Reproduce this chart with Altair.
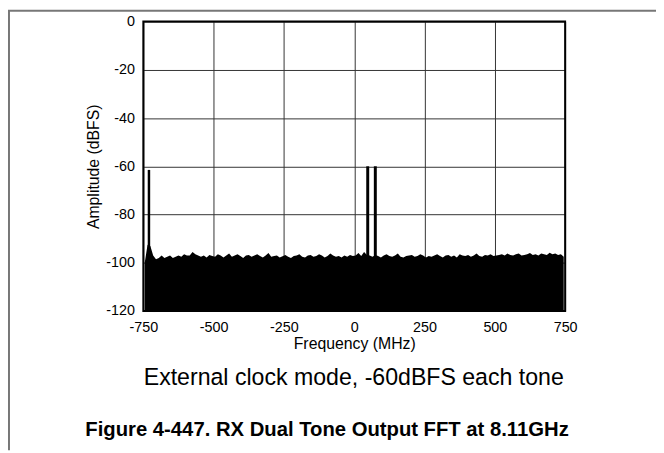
import altair as alt
import pandas as pd

# Noise-floor envelope (top of the filled FFT trace), dBFS, one value per 10 MHz bin
freq_bins = list(range(-745, 746, 10))
noise_top = [
    -100.0, -92.5, -93.0, -97.0, -98.5, -98.0, -97.0, -98.0, -97.5, -97.0,
    -98.0, -97.5, -97.0, -97.5, -96.5, -97.0, -97.0, -95.5, -96.5, -97.0,
    -97.5, -97.0, -97.8, -96.8, -97.2, -97.5, -96.5, -97.0, -97.8, -97.0,
    -96.2, -97.5, -97.0, -96.5, -97.2, -98.0, -97.0, -96.8, -97.5, -97.0,
    -96.5, -97.2, -97.8, -97.0, -96.0, -97.5, -97.2, -97.0, -97.8, -97.3,
    -96.8, -97.5, -98.0, -97.2, -97.0, -96.5, -97.5, -97.8, -97.0, -96.8,
    -97.5, -97.2, -96.5, -97.0, -97.8, -97.2, -96.2, -97.0, -97.5, -97.2,
    -97.8, -97.0, -97.5, -96.8, -97.2, -97.0, -96.0, -97.2, -95.5, -96.8,
    -97.0, -97.5, -96.8, -97.2, -97.8, -97.0, -96.5, -97.2, -97.5, -97.0,
    -96.2, -97.5, -97.8, -97.2, -97.0, -96.8, -97.5, -97.2, -96.5, -97.0,
    -97.8, -97.2, -97.5, -97.0, -96.5, -97.2, -97.8, -97.0, -96.8, -97.5,
    -97.0, -97.8, -96.5, -97.0, -97.2, -96.8, -97.5, -97.0, -96.2, -97.2,
    -97.5, -96.8, -97.0, -96.5, -97.2, -97.0, -96.8, -96.5, -97.0, -96.2,
    -96.8, -97.0, -96.5, -96.2, -97.0, -96.8, -96.5, -96.0, -96.8, -96.5,
    -97.0, -96.2, -96.5, -96.8, -95.8, -96.5, -96.2, -96.8, -96.5, -97.5,
]

# Spurs / tones
tone_freq = [-730, 48, 75]
tone_level = [-61.5, -60.0, -60.0]
tone_width = [2.5, 3, 3]

x_ticks = [-750, -500, -250, 0, 250, 500, 750]
y_ticks = [0, -20, -40, -60, -80, -100, -120]

noise_df = pd.DataFrame({"f": freq_bins, "top": noise_top, "base": [-120] * len(freq_bins)})
tone_df = pd.DataFrame({"f": tone_freq, "top": tone_level, "base": [-120] * 3, "w": tone_width})

xs = alt.Scale(domain=[-750, 750], nice=False, zero=False)
ys = alt.Scale(domain=[-120, 0], nice=False, zero=False)

font = "Liberation Sans"

xaxis = alt.Axis(values=x_ticks, title="Frequency (MHz)", grid=True, ticks=False,
                 labelExpr="datum.value + ''", labelFlush=False,
                 labelPadding=10, titlePadding=1, labelFontSize=14.5, titleFontSize=16,
                 labelColor="black", titleColor="black", titleFontWeight="normal",
                 gridColor="#333", gridWidth=1, domain=False, labelFont=font, titleFont=font)
yaxis = alt.Axis(values=y_ticks, title="Amplitude (dBFS)", grid=True, ticks=False,
                 labelExpr="datum.value + ''", labelFlush=False,
                 labelPadding=9, titlePadding=4, labelFontSize=14.5, titleFontSize=16,
                 labelColor="black", titleColor="black", titleFontWeight="normal",
                 gridColor="#333", gridWidth=1, domain=False, labelFont=font, titleFont=font)

noise = alt.Chart(noise_df).mark_area(color="black", interpolate="linear").encode(
    x=alt.X("f:Q", scale=xs, axis=xaxis),
    y=alt.Y("top:Q", scale=ys, axis=yaxis),
    y2="base:Q",
)

tones = alt.Chart(tone_df).mark_rule(color="black").encode(
    x=alt.X("f:Q", scale=xs),
    y=alt.Y("top:Q", scale=ys),
    y2="base:Q",
    strokeWidth=alt.StrokeWidth("w:Q", scale=None, legend=None),
)

W, H = 427, 293

frame = alt.Chart(pd.DataFrame({"a": [0]})).mark_rect(
    fill=None, stroke="black", strokeWidth=2
).encode(x=alt.value(0), x2=alt.value(W), y=alt.value(0), y2=alt.value(H))

sub = alt.Chart(pd.DataFrame({"t": ["External clock mode, -60dBFS each tone"]})).mark_text(
    fontSize=23.4, font=font, color="black", align="center", baseline="middle"
).encode(text="t:N", x=alt.value(213), y=alt.value(361))

cap = alt.Chart(pd.DataFrame({"t": ["Figure 4-447. RX Dual Tone Output FFT at 8.11GHz"]})).mark_text(
    fontSize=20.5, font=font, fontWeight="bold", color="black", align="center", baseline="middle"
).encode(text="t:N", x=alt.value(186), y=alt.value(414))

border_top = alt.Chart(pd.DataFrame({"a": [0]})).mark_rule(color="#777", strokeWidth=2).encode(
    x=alt.value(-137), x2=alt.value(W + 92), y=alt.value(-11))
border_left = alt.Chart(pd.DataFrame({"a": [0]})).mark_rule(color="#777", strokeWidth=2).encode(
    x=alt.value(-136), y=alt.value(-11), y2=alt.value(H + 141))

chart = alt.layer(noise, tones, frame, sub, cap, border_top, border_left).properties(
    width=W, height=H,
    autosize=alt.AutoSizeParams(type="none"),
    padding={"left": 137, "top": 11, "right": 92, "bottom": 141},
).configure_view(stroke=None).configure(background="white")

chart.save("out.html", embed_options={"renderer": "svg", "actions": False})
